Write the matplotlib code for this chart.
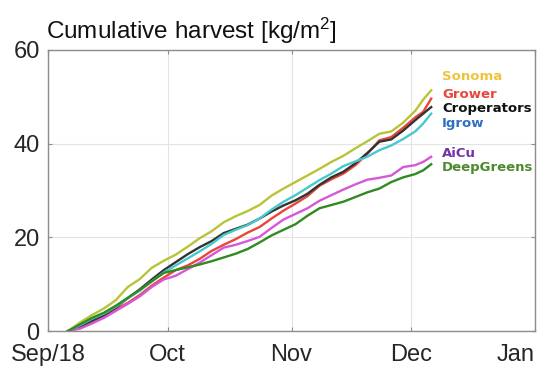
import datetime as dt
import matplotlib
matplotlib.use("Agg")
import matplotlib.pyplot as plt

plt.rcParams['font.family'] = ['Liberation Sans', 'DejaVu Sans']
plt.rcParams['mathtext.default'] = 'regular'

# harvest days (2018), one reading every 3 days
days = ["09-06", "09-09", "09-12", "09-15", "09-18", "09-21", "09-24", "09-27", "09-30",
        "10-03", "10-06", "10-09", "10-12", "10-15", "10-18", "10-21", "10-24", "10-27", "10-30",
        "11-02", "11-05", "11-08", "11-11", "11-14", "11-17", "11-20", "11-23", "11-26", "11-29",
        "12-02", "12-04", "12-06"]

sonoma = [0.0, 1.8, 3.4, 4.8, 6.6, 9.4, 11.1, 13.5, 15.0,
          16.3, 18.0, 19.8, 21.3, 23.2, 24.5, 25.6, 26.9, 28.9, 30.4,
          31.8, 33.2, 34.6, 36.1, 37.4, 39.0, 40.5, 42.1, 42.6, 44.5,
          47.0, 49.4, 51.4]
grower = [0.0, 0.6, 1.8, 3.0, 4.6, 6.0, 7.7, 9.7, 11.4,
          13.0, 14.0, 15.4, 17.1, 18.4, 19.6, 21.0, 22.2, 24.0, 25.7,
          27.2, 28.8, 31.0, 32.4, 33.6, 35.4, 37.8, 40.7, 41.4, 43.4,
          45.6, 46.8, 49.6]
croperators = [0.0, 0.9, 2.2, 3.4, 5.0, 7.0, 8.9, 11.0, 13.0,
               14.7, 16.4, 17.9, 19.2, 20.9, 21.8, 22.7, 24.0, 25.5, 26.8,
               27.9, 29.3, 31.2, 32.8, 34.0, 35.8, 38.0, 40.4, 40.9, 42.8,
               45.0, 46.4, 47.8]
igrow = [0.0, 1.2, 2.6, 3.7, 5.2, 7.0, 8.6, 10.6, 12.5,
         14.0, 15.5, 17.0, 18.6, 20.5, 21.6, 22.6, 24.0, 25.9, 27.6,
         29.0, 30.6, 32.2, 33.6, 35.2, 36.2, 37.2, 38.6, 39.6, 41.0,
         42.6, 44.3, 46.4]
aicu = [0.0, 0.5, 1.6, 2.8, 4.3, 5.8, 7.4, 9.4, 11.0,
        11.8, 13.2, 14.6, 16.2, 17.8, 18.4, 19.2, 20.1, 22.0, 23.8,
        25.0, 26.2, 27.8, 29.0, 30.2, 31.3, 32.3, 32.7, 33.2, 35.0,
        35.4, 36.1, 37.2]
deepgreens = [0.0, 1.4, 2.8, 3.9, 5.4, 7.1, 8.8, 10.6, 12.4,
              13.0, 13.6, 14.2, 14.9, 15.7, 16.5, 17.5, 18.9, 20.4, 21.6,
              22.8, 24.6, 26.2, 26.9, 27.6, 28.6, 29.6, 30.4, 31.8, 32.8,
              33.5, 34.3, 35.6]

names = ["Sonoma", "Grower", "Croperators", "Igrow", "AiCu", "DeepGreens"]
series = [sonoma, grower, croperators, igrow, aicu, deepgreens]
line_colors = ["#b8c436", "#e8453c", "#333333", "#45c9cc", "#d558d8", "#2f8a1f"]
label_colors = ["#efc43a", "#e8453c", "#111111", "#2f6fc2", "#7433a6", "#4c8a2e"]
label_y = [0.904, 0.843, 0.790, 0.737, 0.633, 0.580]  # axes fraction

month_ticks = ["2018-09-01", "2018-10-01", "2018-11-01", "2018-12-01", "2019-01-01"]
month_labels = ["Sep/18", "Oct", "Nov", "Dec", "Jan"]
y_ticks = [0, 20, 40, 60]

dates = [dt.datetime.strptime("2018-" + d, "%Y-%m-%d") for d in days]
tick_dates = [dt.datetime.strptime(t, "%Y-%m-%d") for t in month_ticks]

fig = plt.figure(figsize=(5.5, 3.84), dpi=100)
ax = fig.add_axes([0.0873, 0.138, 0.8854, 0.732])

for vals, c in zip(series, line_colors):
    ax.plot(dates, vals, color=c, lw=1.7, solid_joinstyle='round')

for name, c, yy in zip(names, label_colors, label_y):
    ax.text(0.809, yy, name, transform=ax.transAxes, color=c, fontsize=9.5,
            fontweight='bold', family='DejaVu Sans', va='center', ha='left')

ax.set_xlim(tick_dates[0], tick_dates[-1])
ax.set_ylim(y_ticks[0], y_ticks[-1])
ax.set_xticks(tick_dates)
ax.set_xticklabels(month_labels)
ax.set_yticks(y_ticks)
ax.grid(True, color="#e3e3e3", lw=0.8)
ax.set_axisbelow(True)
for s in ax.spines.values():
    s.set_color("#8c8c8c")
    s.set_linewidth(1.0)
ax.tick_params(direction='in', top=True, right=True, length=3, color="#8c8c8c",
               labelsize=17, labelcolor="#262626")
ax.tick_params(axis='x', pad=9)
ax.tick_params(axis='y', pad=6)
# last month label kept inside the figure, as in the original
ax.get_xticklabels()[-1].set_ha('right')

fig.text(0.083, 0.8995, "Cumulative harvest [kg/m$^2$]", fontsize=17.5,
         color="#111111", va='baseline', ha='left')

fig.savefig("out.png", dpi=100)
